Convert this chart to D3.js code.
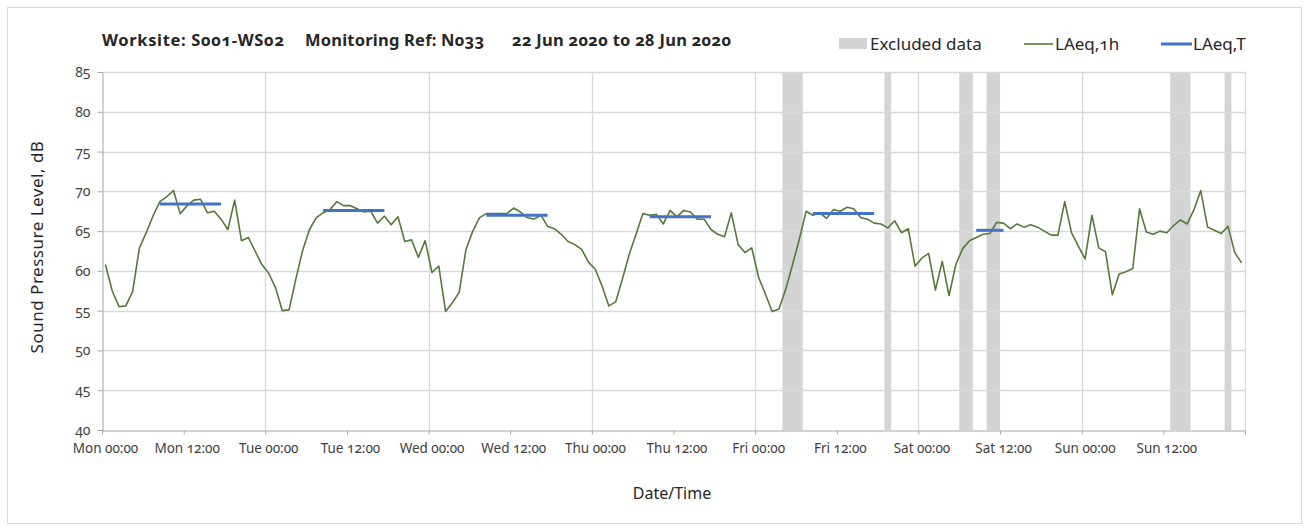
<!DOCTYPE html>
<html>
<head>
<meta charset="utf-8">
<script src="https://cdn.jsdelivr.net/npm/d3@7"></script>
<style>
  body { margin: 0; background: #fff; }
  svg text { font-family: "Noto Sans", "Open Sans", sans-serif; font-variant-numeric: oldstyle-nums; fill: #262626; }
</style>
</head>
<body>
<svg id="chart" width="1309" height="531"></svg>
<script>
// Monitoring week: Monday 22 June 2020 00:00 to Monday 29 June 2020 00:00
const weekStart = new Date(2020, 5, 22, 0, 0);

// Hourly LAeq,1h values (dB), 24 per day, hour 00 to 23
const laeqMon = [60.8, 57.5, 55.5, 55.6, 57.4, 62.9, 64.8, 66.9, 68.7, 69.3, 70.1, 67.2, 68.2, 68.9, 69.0, 67.3, 67.5, 66.5, 65.2, 68.9, 63.8, 64.2, 62.5, 60.8];
const laeqTue = [59.7, 57.9, 55.0, 55.1, 59.0, 62.6, 65.2, 66.7, 67.3, 67.7, 68.7, 68.2, 68.2, 67.8, 67.4, 67.5, 66.0, 66.9, 65.8, 66.8, 63.7, 63.9, 61.7, 63.8];
const laeqWed = [59.8, 60.6, 54.9, 56.0, 57.3, 62.7, 65.0, 66.7, 67.2, 67.2, 67.2, 67.2, 67.9, 67.4, 66.7, 66.5, 67.0, 65.6, 65.3, 64.6, 63.7, 63.3, 62.7, 61.1];
const laeqThu = [60.2, 58.1, 55.6, 56.1, 59.0, 62.1, 64.6, 67.2, 67.0, 67.1, 65.9, 67.6, 66.8, 67.6, 67.4, 66.5, 66.5, 65.2, 64.6, 64.3, 67.3, 63.3, 62.3, 62.9];
const laeqFri = [59.2, 57.1, 54.9, 55.2, 57.7, 60.8, 64.0, 67.5, 67.0, 67.3, 66.6, 67.7, 67.5, 68.0, 67.8, 66.7, 66.5, 66.0, 65.9, 65.4, 66.3, 64.8, 65.3, 60.6];
const laeqSat = [61.6, 62.2, 57.6, 61.2, 56.9, 60.8, 62.8, 63.8, 64.2, 64.6, 64.7, 66.1, 66.0, 65.3, 65.9, 65.5, 65.8, 65.5, 65.0, 64.5, 64.5, 68.7, 64.8, 63.1];
const laeqSun = [61.5, 67.0, 62.9, 62.4, 57.0, 59.6, 59.9, 60.3, 67.8, 64.9, 64.6, 65.0, 64.8, 65.7, 66.4, 65.9, 67.7, 70.1, 65.5, 65.1, 64.7, 65.6, 62.3, 61.0];

// Working-period LAeq,T: day index (0 = Mon), start hour, end hour, level (dB)
const periodDay   = [0, 1, 2, 3, 4, 5];
const periodStart = [8, 8, 8, 8, 8, 8];
const periodEnd   = [18, 18, 18, 18, 18, 13];
const laeqT       = [68.4, 67.6, 67.0, 66.8, 67.2, 65.1];

// Excluded data windows, in hours from Monday 00:00
const excludedFrom = [100, 115, 126, 130, 157, 165];
const excludedTo   = [103, 116, 128, 132, 160, 166];

const yTickValues = [40, 45, 50, 55, 60, 65, 70, 75, 80, 85];
const xTickHours = d3.range(0, 169, 12);

const hourly = [].concat(laeqMon, laeqTue, laeqWed, laeqThu, laeqFri, laeqSat, laeqSun);
// each hourly value sits at the middle of its hour
const atHour = h => d3.timeMinute.offset(weekStart, Math.round(h * 60));
const series = hourly.map((v, i) => ({ t: atHour(i + 0.5), v }));

const svg = d3.select("#chart");
const plot = { left: 102, right: 1245, top: 72, bottom: 430 };

const x = d3.scaleTime().domain([weekStart, atHour(168)]).range([plot.left, plot.right]);
const y = d3.scaleLinear().domain([40, 85]).range([plot.bottom, plot.top]);

// outer frame
svg.append("rect").attr("x", 7.5).attr("y", 7.5).attr("width", 1294).attr("height", 516)
  .attr("fill", "#fff").attr("stroke", "#d9d9d9");

// excluded data bands
svg.append("g").selectAll("rect").data(excludedFrom).join("rect")
  .attr("x", (d) => x(atHour(d)))
  .attr("width", (d, i) => x(atHour(excludedTo[i])) - x(atHour(d)))
  .attr("y", plot.top).attr("height", plot.bottom - plot.top)
  .attr("fill", "#d4d4d4");

// gridlines
const grid = svg.append("g").attr("stroke", "#d9d9d9").attr("stroke-width", 1.3);
grid.selectAll("line.h").data(yTickValues.filter(v => v > 40)).join("line")
  .attr("x1", plot.left).attr("x2", plot.right)
  .attr("y1", d => Math.round(y(d)) + 0.5).attr("y2", d => Math.round(y(d)) + 0.5);
grid.selectAll("line.v").data(d3.range(1, 8)).join("line")
  .attr("y1", plot.top).attr("y2", plot.bottom)
  .attr("x1", d => Math.round(x(atHour(d * 24))) + 0.5).attr("x2", d => Math.round(x(atHour(d * 24))) + 0.5);

// axes
const yAxis = svg.append("g").attr("transform", `translate(${plot.left + 0.5},0)`)
  .call(d3.axisLeft(y).tickValues(yTickValues).tickSize(5).tickPadding(7));
yAxis.select(".domain").attr("stroke", "#a6a6a6");
yAxis.selectAll(".tick line").attr("stroke", "#a6a6a6");
yAxis.selectAll(".tick text").attr("font-size", 14).style("fill", "#404040");

const fmt = d3.timeFormat("%a %H:%M");
const xAxis = svg.append("g").attr("transform", `translate(0,${plot.bottom + 0.5})`)
  .call(d3.axisBottom(x).tickValues(xTickHours.map(atHour)).tickSize(4).tickPadding(9)
    .tickFormat((d, i) => i === xTickHours.length - 1 ? "" : fmt(d)));
xAxis.select(".domain").attr("stroke", "#a6a6a6");
xAxis.selectAll(".tick line").attr("stroke", "#a6a6a6");
xAxis.selectAll(".tick text").attr("font-size", 13.5).attr("dx", 3).style("fill", "#404040");

// LAeq,1h line
svg.append("path").datum(series)
  .attr("fill", "none").attr("stroke", "#557a38").attr("stroke-width", 1.6)
  .attr("stroke-linejoin", "round")
  .attr("d", d3.line().x(d => x(d.t)).y(d => y(d.v)));

// LAeq,T period lines
const tLine = d3.line().x(d => x(d.t)).y(d => y(d.v));
svg.append("g").selectAll("path").data(laeqT).join("path")
  .attr("fill", "none").attr("stroke", "#4472c4").attr("stroke-width", 3)
  .attr("d", (v, i) => {
    const base = periodDay[i] * 24;
    return tLine([
      { t: atHour(base + periodStart[i] + 0.5), v },
      { t: atHour(base + periodEnd[i] - 0.5), v }
    ]);
  });

// titles
const title = svg.append("g").attr("font-weight", "bold").attr("font-size", 16.5);
title.append("text").attr("x", 102).attr("y", 46).attr("textLength", 182).attr("lengthAdjust", "spacing").text("Worksite: S001-WS02");
title.append("text").attr("x", 305).attr("y", 46).attr("textLength", 179).attr("lengthAdjust", "spacing").text("Monitoring Ref: N033");
title.append("text").attr("x", 512).attr("y", 46).attr("textLength", 219).attr("lengthAdjust", "spacing").text("22 Jun 2020 to 28 Jun 2020");

svg.append("text").attr("x", 672).attr("y", 499).attr("text-anchor", "middle")
  .attr("font-size", 16).text("Date/Time");
svg.append("text").attr("transform", "translate(43,247) rotate(-90)").attr("text-anchor", "middle")
  .attr("font-size", 17).attr("letter-spacing", 0.5).text("Sound Pressure Level, dB");

// legend
const legend = svg.append("g").attr("font-size", 17);
legend.append("rect").attr("x", 839).attr("y", 38).attr("width", 28).attr("height", 11).attr("fill", "#d4d4d4");
legend.append("text").attr("x", 870).attr("y", 50).text("Excluded data");
legend.append("line").attr("x1", 1024).attr("x2", 1053).attr("y1", 44).attr("y2", 44)
  .attr("stroke", "#557a38").attr("stroke-width", 1.6);
legend.append("text").attr("x", 1055).attr("y", 50).text("LAeq,1h");
legend.append("line").attr("x1", 1161).attr("x2", 1192).attr("y1", 44).attr("y2", 44)
  .attr("stroke", "#4472c4").attr("stroke-width", 3);
legend.append("text").attr("x", 1193).attr("y", 50).text("LAeq,T");
</script>
</body>
</html>
